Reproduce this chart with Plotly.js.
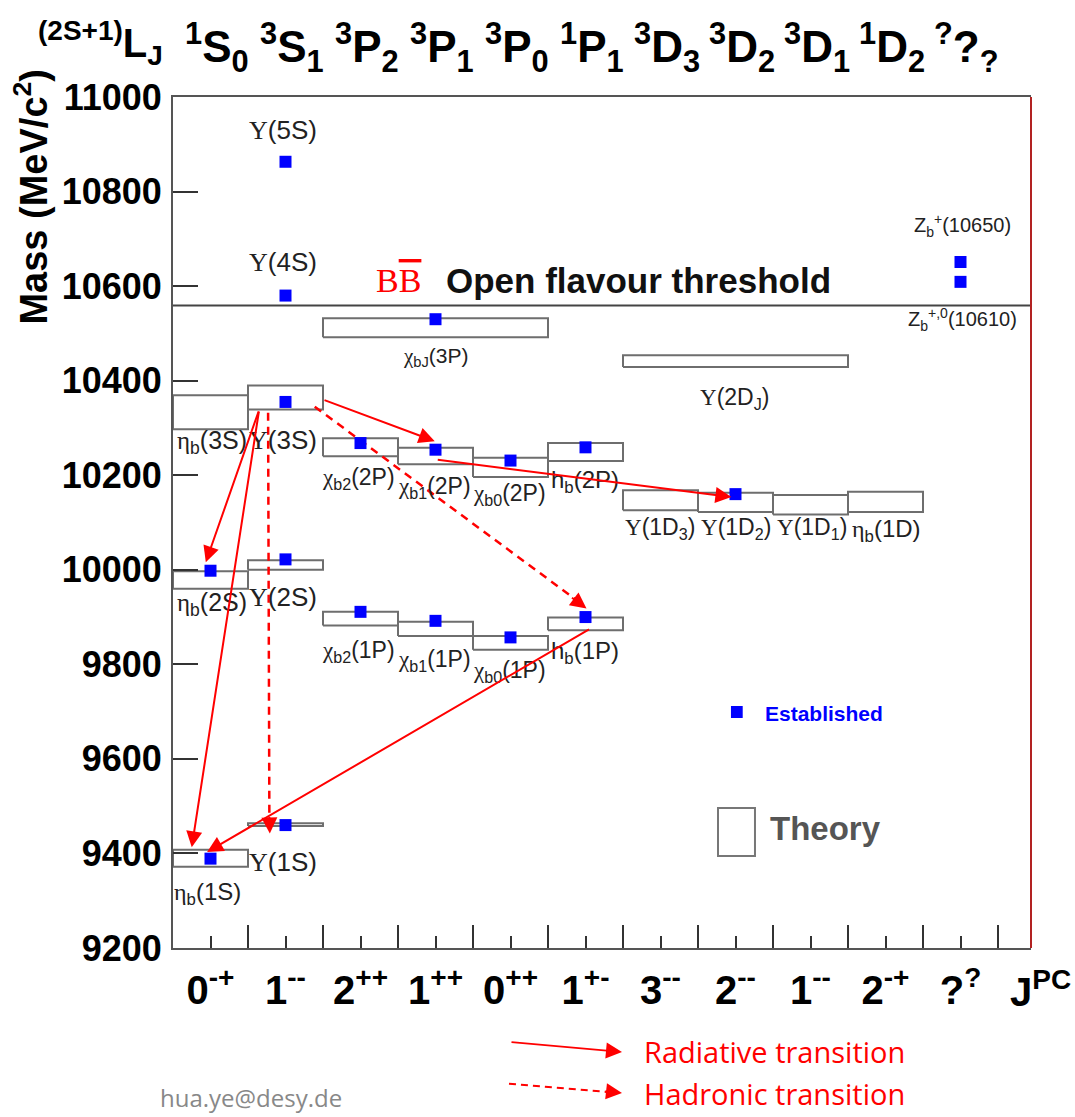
<!DOCTYPE html>
<html>
<head>
<meta charset="utf-8">
<script src="https://cdn.plot.ly/plotly-3.0.1.min.js"></script>
<style>html,body{margin:0;padding:0;background:#fff;}#chart{width:1075px;height:1117px;}</style>
</head>
<body>
<div id="chart"></div>
<script>
// ---------------- DATA ----------------
const jpcLabels = ['0<sup>-+</sup>','1<sup>--</sup>','2<sup>++</sup>','1<sup>++</sup>','0<sup>++</sup>','1<sup>+-</sup>','3<sup>--</sup>','2<sup>--</sup>','1<sup>--</sup>','2<sup>-+</sup>','?<sup>?</sup>'];
const termLabels = ['<sup>1</sup>S<sub>0</sub>','<sup>3</sup>S<sub>1</sub>','<sup>3</sup>P<sub>2</sub>','<sup>3</sup>P<sub>1</sub>','<sup>3</sup>P<sub>0</sub>','<sup>1</sup>P<sub>1</sub>','<sup>3</sup>D<sub>3</sub>','<sup>3</sup>D<sub>2</sub>','<sup>3</sup>D<sub>1</sub>','<sup>1</sup>D<sub>2</sub>','<sup>?</sup>?<sub>?</sub>'];

// Established states (blue squares)
const estNames = ['ηb(1S)','ηb(2S)','Υ(1S)','Υ(2S)','Υ(3S)','Υ(4S)','Υ(5S)','χb2(1P)','χb2(2P)','χbJ(3P)','χb1(1P)','χb1(2P)','χb0(1P)','χb0(2P)','hb(1P)','hb(2P)','Υ(1D2)','Zb(10610)','Zb(10650)'];
const estCol   = [0,0,1,1,1,1,1,2,2,3,3,3,4,4,5,5,7,10,10];
const estMass  = [9389,9998,9460,10022,10355,10580,10863,9911,10268,10530,9892,10254,9857,10231,9900,10259,10160,10609,10651];

// Theory predictions (boxes)
const thNames   = ['ηb(1S)','ηb(2S)','ηb(3S)','Υ(1S)','Υ(2S)','Υ(3S)','χb2(1P)','χb2(2P)','χb1(1P)','χb1(2P)','χb0(1P)','χb0(2P)','hb(1P)','hb(2P)','χbJ(3P)','Υ(1D3)','Υ(1D2)','Υ(1D1)','ηb(1D)','Υ(2DJ)'];
const thColFrom = [0,0,0,1,1,1,2,2,3,3,4,4,5,5,2,6,7,8,9,6];
const thColTo   = [0,0,0,1,1,1,2,2,3,3,4,4,5,5,4,6,7,8,9,8];
const thLow     = [9372,9960,10297,9458,10000,10339,9882,10240,9860,10223,9831,10196,9872,10230,10492,10126,10122,10117,10122,10429];
const thHigh    = [9408,9997,10369,9464,10020,10390,9911,10278,9890,10258,9860,10237,9899,10268,10532,10168,10163,10158,10165,10454];

const thresholdMass = 10559; // B Bbar open flavour threshold

// ---------------- BUILD ----------------
const SANS = 'Liberation Sans, Arial, sans-serif';
const SERIF = "Liberation Serif";
const g = (c) => `<span style="font-family:'${SERIF}'">${c}</span>`;
const UPS = g('Υ'), ETA = g('η'), CHI = g('χ');

const bx = [], by = [];
for (let i = 0; i < thNames.length; i++) {
  const x0 = thColFrom[i] - 0.5, x1 = thColTo[i] + 0.5;
  bx.push(x0, x1, x1, x0, x0, null);
  by.push(thLow[i], thLow[i], thHigh[i], thHigh[i], thLow[i], null);
}
const boxTrace = {
  x: bx, y: by, mode: 'lines', type: 'scatter',
  line: {color: '#6e6e6e', width: 2}, hoverinfo: 'skip', showlegend: false
};
const estTrace = {
  x: estCol, y: estMass, text: estNames, mode: 'markers', type: 'scatter',
  marker: {symbol: 'square', size: 12, color: '#0000ff'}, showlegend: false, cliponaxis: false
};

const dashed1 = {x: [1.39, 4.93], y: [10345, 9930], mode: 'lines', type: 'scatter', line: {color: '#ff0000', width: 2.5, dash: '8px,6px'}, hoverinfo: 'skip', showlegend: false};
const dashed2 = {x: [0.768, 0.785], y: [10332, 9470], mode: 'lines', type: 'scatter', line: {color: '#ff0000', width: 2.5, dash: '8px,6px'}, hoverinfo: 'skip', showlegend: false};

const ann = [];
function lab(x, y, text, size, extra) {
  ann.push(Object.assign({x, y, xref: 'x', yref: 'y', xanchor: 'center', yanchor: 'middle', text, showarrow: false,
    font: {family: SANS, size: size, color: '#222'}}, extra || {}));
}
function ptxt(x, y, text, font, extra) {
  ann.push(Object.assign({x, y, xref: 'paper', yref: 'paper', xanchor: 'center', yanchor: 'middle', text, showarrow: false, font}, extra || {}));
}
lab(0.97, 10930, UPS + '(5S)', 26);
lab(0.97, 10651, UPS + '(4S)', 26);
lab(3.01, 10450, CHI + '<sub>bJ</sub>(3P)', 21);
lab(6.99, 10363, UPS + '(2D<sub>J</sub>)', 23);
lab(0.02, 10270, ETA + '<sub>b</sub>(3S)', 25);
lab(0.97, 10274, UPS + '(3S)', 26);
lab(1.97, 10194, CHI + '<sub>b2</sub>(2P)', 23);
lab(2.98, 10175, CHI + '<sub>b1</sub>(2P)', 23);
lab(3.99, 10160, CHI + '<sub>b0</sub>(2P)', 23);
lab(4.99, 10186, 'h<sub>b</sub>(2P)', 24);
lab(5.99, 10088, UPS + '(1D<sub>3</sub>)', 23);
lab(7.01, 10088, UPS + '(1D<sub>2</sub>)', 23);
lab(8.02, 10088, UPS + '(1D<sub>1</sub>)', 23);
lab(9.01, 10084, ETA + '<sub>b</sub>(1D)', 24);
lab(0.02, 9928, ETA + '<sub>b</sub>(2S)', 25);
lab(0.97, 9942, UPS + '(2S)', 26);
lab(1.97, 9828, CHI + '<sub>b2</sub>(1P)', 23);
lab(2.98, 9809, CHI + '<sub>b1</sub>(1P)', 23);
lab(3.99, 9784, CHI + '<sub>b0</sub>(1P)', 23);
lab(4.99, 9824, 'h<sub>b</sub>(1P)', 24);
lab(0.97, 9382, UPS + '(1S)', 26);
lab(-0.04, 9316, ETA + '<sub>b</sub>(1S)', 24);
lab(10.02, 10729, 'Z<sub>b</sub><sup>+</sup>(10650)', 20);
lab(10.02, 10530, 'Z<sub>b</sub><sup>+,0</sup>(10610)', 20);
lab(2.5, 10612, 'B<span style="text-decoration:overline">B</span>', 34, {font: {family: SERIF, size: 34, color: '#ff0000'}});
lab(5.71, 10612, 'Open flavour threshold', 35, {font: {family: SANS, size: 35, color: '#111', weight: 'bold'}});

function arrow(tx, ty, sx, sy) {
  ann.push({x: tx, y: ty, ax: sx, ay: sy, xref: 'x', yref: 'y', axref: 'x', ayref: 'y',
    text: '', showarrow: true, arrowhead: 2, arrowsize: 1.6, arrowwidth: 2, arrowcolor: '#ff0000'});
}
arrow(-0.063, 10016, 0.648, 10338);
arrow(-0.25, 9413, 0.648, 10338);
arrow(2.99, 10272, 1.50, 10360);
arrow(6.945, 10154, 3.01, 10233);
arrow(-0.045, 9403, 5.067, 9876);
ann.push({x: 5.013, y: 9918, ax: -16, ay: -12, xref: 'x', yref: 'y', text: '', showarrow: true, arrowhead: 2, arrowsize: 1.6, arrowwidth: 2, arrowcolor: '#ff0000'});
ann.push({x: 0.791, y: 9442, ax: -0.5, ay: -18, xref: 'x', yref: 'y', text: '', showarrow: true, arrowhead: 2, arrowsize: 1.6, arrowwidth: 2, arrowcolor: '#ff0000'});

// top row (2S+1)L_J labels
const topFont = {family: SANS, size: 44, color: '#000', weight: 'bold'};
for (let i = 0; i < termLabels.length; i++) {
  ann.push({x: i + 0.08, y: 1.058, xref: 'x', yref: 'paper', xanchor: 'center', yanchor: 'middle', text: termLabels[i], showarrow: false, font: topFont});
}
ptxt(-0.085, 1.063, '<sup>(2S+1)</sup>L<sub>J</sub>', {family: SANS, size: 40, color: '#000', weight: 'bold'});
ptxt(1.011, -0.048, 'J<sup>PC</sup>', {family: SANS, size: 40, color: '#000', weight: 'bold'});
ptxt(-0.166, 0.8825, 'Mass (MeV/c<sup>2</sup>)', {family: SANS, size: 38, color: '#000', weight: 'bold'}, {textangle: -90});
ptxt(0.688, 0.2761, 'Established', {family: SANS, size: 21, color: '#0000ff', weight: 'bold'}, {xanchor: 'left'});
ptxt(0.694, 0.141, 'Theory', {family: SANS, size: 33, color: '#555', weight: 'bold'}, {xanchor: 'left'});
ptxt(0.5466, -0.1222, 'Radiative transition', {family: 'Open Sans, sans-serif', size: 29, color: '#ff0000'}, {xanchor: 'left'});
ptxt(0.5466, -0.1704, 'Hadronic transition', {family: 'Open Sans, sans-serif', size: 29, color: '#ff0000'}, {xanchor: 'left'});
ptxt(0.0909, -0.1755, 'hua.ye@desy.de', {family: 'Open Sans, sans-serif', size: 24, color: '#888'});
ann.push({x: 0.5233, y: -0.1222, ax: -112, ay: -10, xref: 'paper', yref: 'paper', text: '', showarrow: true,
  arrowhead: 2, arrowsize: 1.6, arrowwidth: 2, arrowcolor: '#ff0000'});
ann.push({x: 0.5233, y: -0.1704, ax: -18, ay: -2, xref: 'paper', yref: 'paper', text: '', showarrow: true,
  arrowhead: 2, arrowsize: 1.6, arrowwidth: 2, arrowcolor: '#ff0000'});

const shapes = [
  {type: 'line', xref: 'paper', yref: 'y', x0: 0, x1: 1, y0: thresholdMass, y1: thresholdMass, line: {color: '#444', width: 2}},
  {type: 'line', xref: 'paper', yref: 'paper', x0: 1, x1: 1, y0: 0, y1: 1, line: {color: '#b22222', width: 2}},
  {type: 'rect', xref: 'paper', yref: 'paper', x0: 0.6503, x1: 0.664, y0: 0.2703, y1: 0.2844, fillcolor: '#0000ff', line: {width: 0}},
  {type: 'rect', xref: 'paper', yref: 'paper', x0: 0.6352, x1: 0.6783, y0: 0.1081, y1: 0.1645, line: {color: '#777', width: 2}},
  {type: 'line', xref: 'paper', yref: 'paper', x0: 0.3916, x1: 0.505, y0: -0.1594, y1: -0.1691, line: {color: '#ff0000', width: 2, dash: '7px,5px'}}
];

const layout = {
  width: 1075, height: 1117,
  margin: {l: 173, r: 44, t: 97, b: 169},
  paper_bgcolor: '#fff', plot_bgcolor: '#fff',
  showlegend: false,
  xaxis: {
    range: [-0.5, 10.94], showgrid: false, zeroline: false,
    tickvals: jpcLabels.map((_, i) => i), ticktext: jpcLabels,
    ticks: 'inside', ticklen: 12, tickwidth: 2, tickcolor: '#333',
    minor: {tickvals: jpcLabels.map((_, i) => i + 0.5), ticks: 'inside', ticklen: 23, tickwidth: 2, tickcolor: '#333'},
    showline: true, linecolor: '#555', linewidth: 2, mirror: true,
    tickfont: {family: SANS, size: 40, color: '#000', weight: 'bold'},
    ticklabelstandoff: 6
  },
  yaxis: {
    range: [9200, 11000], dtick: 200, tick0: 9200, tickformat: 'd', showgrid: false, zeroline: false,
    ticks: 'inside', ticklen: 25, tickwidth: 2, tickcolor: '#333',
    showline: true, linecolor: '#555', linewidth: 2,
    tickfont: {family: SANS, size: 36, color: '#000', weight: 'bold'},
    ticklabelstandoff: 2
  },
  annotations: ann,
  shapes: shapes
};

Plotly.newPlot('chart', [boxTrace, dashed1, dashed2, estTrace], layout, {displayModeBar: false, staticPlot: true});
</script>
</body>
</html>
